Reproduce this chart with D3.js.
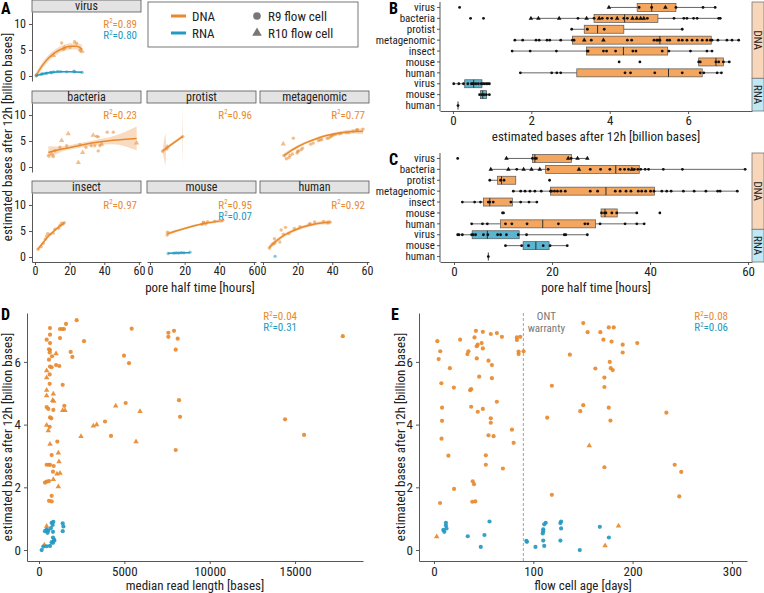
<!DOCTYPE html>
<html><head><meta charset="utf-8">
<script src="https://cdn.jsdelivr.net/npm/d3@7"></script>
<style>body{margin:0;background:#fff}svg{display:block}</style>
</head><body>
<svg id="c" width="764" height="593"></svg>
<script>
// ================= DATA =================
// Panel A: [pore half time (h), bases (billion), shape 0=R9 circle 1=R10 triangle]
const aVirusDNA=[[0.75,0.15,0],[10.7,3.97,1],[15.4,6.35,0],[16.5,5.1,0],[17.0,5.45,1],[20.2,5.5,0],[22.8,6.6,0],[24.0,6.3,0],[26.0,4.95,0],[27.2,4.75,1]];
const aVirusRNA=[[0.75,0.05,0],[1.0,0.18,0],[3.6,0.33,0],[4.4,0.42,0],[6.0,0.5,0],[6.9,0.55,0],[8.9,0.7,0],[9.5,0.62,0],[10.7,0.76,0],[13.1,0.9,0],[14.8,0.85,0],[18.3,0.8,0],[22.5,0.93,0],[22.8,0.82,0],[27.2,0.7,0]];
const aBacteria=[[7.7,2.16,0],[9.6,2.5,1],[10.6,2.02,0],[11.5,3.14,0],[14.4,3.8,0],[15.4,5.1,1],[18.3,4.1,0],[19.2,6.4,1],[25.0,0.85,1],[26.0,4.3,0],[27.5,2.8,1],[29.4,3.8,0],[32.5,4.1,0],[33.6,6.1,1],[34.5,4.1,0],[35.6,5.9,0],[36.5,5.8,0],[36.5,3.1,0],[37.5,4.1,0],[38.5,4.4,1],[41.7,6.7,0],[45.2,6.7,0],[58.7,4.6,1]];
const aProtist=[[7.3,3.03,0],[9.5,3.43,0],[9.9,3.86,1],[18.9,5.85,0]];
const aMeta=[[11.7,4.45,1],[12.1,2.2,0],[13.5,1.6,0],[15.0,1.8,0],[15.6,2.2,0],[17.0,2.5,0],[17.5,5.55,0],[19.7,2.7,0],[20.0,3.0,0],[20.5,3.1,0],[22.0,3.3,0],[22.8,3.6,0],[27.5,4.4,0],[29.0,4.6,0],[32.0,5.1,0],[33.0,5.2,0],[34.0,5.3,0],[37.0,5.5,0],[38.0,5.6,0],[39.0,5.8,0],[39.5,6.0,0],[40.0,6.1,0],[40.9,6.2,0],[42.0,6.3,0],[44.0,6.4,0],[45.0,6.5,0],[48.0,6.6,0],[49.5,6.6,0],[52.0,6.9,0],[54.0,7.1,0],[54.5,7.2,0],[57.8,7.29,0]];
const aInsect=[[1.7,1.51,0],[3.6,1.97,0],[4.8,2.64,0],[6.0,3.43,0],[6.7,4.0,0],[7.3,4.5,0],[8.7,4.4,0],[10.5,4.59,0],[11.5,5.34,0],[13.6,5.51,0],[14.4,6.06,0],[15.3,6.48,0],[16.3,6.4,0],[16.9,6.62,0]];
const aMouseDNA=[[9.9,4.24,0],[10.1,4.77,0],[30.0,6.27,0],[30.7,6.6,0],[31.0,6.71,0],[32.2,6.35,0],[33.2,6.8,0],[37.3,6.9,0],[42.0,7.05,0]];
const aMouseRNA=[[10.5,0.68,0],[13.8,0.74,0],[15.2,0.79,0],[16.7,0.76,0],[18.2,0.85,0],[19.6,0.8,0],[23.1,0.93,0]];
const aHumanDNA=[[3.6,1.72,0],[5.8,2.52,0],[6.6,3.5,0],[6.8,2.65,0],[9.7,2.9,0],[10.5,5.2,0],[11.8,4.39,0],[13.0,5.7,0],[14.9,4.53,0],[18.1,5.5,0],[21.3,5.85,0],[26.7,6.31,0],[27.3,6.4,0],[29.8,6.74,0],[34.9,6.85,0],[37.3,6.6,0],[38.8,6.7,0]];
const aHumanRNA=[[7.0,0.13,0]];
// smooth fits: [x, fit, lower, upper]
const aVirusDNAFit=[[0.75,0.15,-0.5,0.8],[4,1.9,1.3,2.5],[8,3.5,2.9,4.1],[12,4.6,4.0,5.2],[16,5.3,4.7,5.9],[20,5.7,5.1,6.3],[24,5.7,5.1,6.3],[27.2,5.1,4.2,6.0]];
const aVirusRNAFit=[[0.75,0.12,-0.05,0.3],[5,0.45,0.33,0.57],[10,0.7,0.58,0.82],[15,0.8,0.68,0.92],[20,0.82,0.7,0.94],[27.2,0.7,0.45,0.95]];
const aBacteriaFit=[[7.7,2.8,1.6,4.0],[15,3.4,2.9,3.95],[25,4.1,3.65,4.55],[35,4.7,4.2,5.2],[45,5.15,4.4,5.9],[58.7,5.5,3.2,7.8]];
const aProtistFit=[[7.3,3.1,2.9,3.3],[8.9,3.5,0.2,6.7],[9.3,3.6,3.3,3.95],[18.5,5.8,5.55,6.1],[18.9,5.9,0.2,11.3]];
const aMetaFit=[[12.1,2.2,1.7,2.7],[16,3.1,2.8,3.45],[20,3.9,3.6,4.2],[25,4.7,4.45,4.95],[30,5.35,5.1,5.6],[35,5.9,5.65,6.15],[40,6.3,6.05,6.55],[45,6.6,6.3,6.9],[50,6.8,6.45,7.15],[57.8,6.9,6.3,7.5]];
const aInsectFit=[[1.7,1.5,1.1,1.9],[4,2.5,2.25,2.75],[7,3.7,3.5,3.9],[10,4.7,4.5,4.9],[13,5.6,5.4,5.8],[16.9,6.5,6.2,6.8]];
const aMouseDNAFit=[[9.9,4.45,4.05,4.85],[15,5.0,4.75,5.25],[20,5.5,5.27,5.73],[25,5.95,5.72,6.18],[30,6.35,6.15,6.55],[35,6.65,6.42,6.88],[42,7.0,6.6,7.4]];
const aMouseRNAFit=[[10.5,0.72,0.6,0.84],[15,0.76,0.68,0.84],[20,0.8,0.72,0.88],[23.1,0.83,0.7,0.96]];
const aHumanFit=[[3.6,1.8,1.2,2.4],[7,2.9,2.5,3.3],[10,3.7,3.35,4.05],[15,4.7,4.4,5.0],[20,5.4,5.1,5.7],[25,5.95,5.65,6.25],[30,6.35,6.05,6.65],[35,6.6,6.25,6.95],[38.8,6.7,6.2,7.2]];
const aFacetNames=["virus","bacteria","protist","metagenomic","insect","mouse","human"];
const aR2DNA=["0.89","0.23","0.96","0.77","0.97","0.95","0.92"];
const aR2RNA=["0.80",null,null,null,null,"0.07",null];
const aXTicks=[0,20,40,60], aYTicks=[0,5,10];

// Panels B & C categories
const dnaCats=["virus","bacteria","protist","metagenomic","insect","mouse","human"];
const rnaCats=["virus","mouse","human"];
// box stats [lower whisker, q1, median, q3, upper whisker]; points [value, shape]
const bBoxDNA=[[3.98,4.70,5.07,5.69,6.69],[1.99,3.6,4.38,5.23,6.82],[3.03,3.35,3.69,4.36,5.85],[1.58,3.05,5.28,6.59,7.29],[1.51,3.41,4.35,5.48,6.61],[6.27,6.27,6.71,6.9,7.05],[1.72,3.16,5.5,6.36,6.85]];
const bBoxRNA=[[0.02,0.3,0.53,0.74,0.93],[0.68,0.7,0.76,0.86,0.93],[0.13,0.13,0.13,0.13,0.13]];
const bPtsDNA=[
 [[0.17,0],[3.98,1],[4.75,0],[5.07,0],[5.42,1],[5.69,0],[6.38,0],[6.69,0]],
 [[0.45,0],[0.78,0],[1.99,1],[2.18,1],[2.71,1],[3.19,0],[3.41,1],[3.6,0],[3.73,1],[3.81,0],[3.94,0],[4.05,0],[4.19,1],[4.36,0],[4.45,0],[4.58,1],[4.69,1],[4.79,1],[4.87,1],[4.96,0],[5.64,0],[5.89,0],[5.97,0],[6.14,0],[6.23,0],[6.78,0],[6.82,0]],
 [[3.03,0],[3.43,0],[3.86,0],[5.85,0]],
 [[1.58,0],[1.78,0],[2.12,0],[2.2,0],[2.4,0],[2.47,0],[2.75,0],[3.05,0],[3.09,0],[3.35,1],[3.53,0],[3.84,1],[4.45,0],[4.56,0],[5.13,0],[5.2,0],[5.23,0],[5.28,0],[5.47,0],[5.53,0],[5.76,0],[5.85,0],[5.97,0],[6.1,0],[6.23,0],[6.36,0],[6.48,0],[6.57,0],[6.61,0],[6.76,0],[6.99,0],[7.12,0],[7.29,0]],
 [[1.51,0],[1.97,0],[2.64,0],[3.43,0],[3.45,0],[3.84,0],[3.92,0],[4.15,0],[4.59,0],[4.67,0],[5.34,0],[5.51,0],[6.06,0],[6.48,0],[6.61,0]],
 [[4.24,0],[4.77,0],[6.27,0],[6.31,0],[6.71,0],[6.78,0],[6.9,0],[7.05,0]],
 [[1.72,0],[2.52,0],[2.65,0],[2.75,0],[4.39,0],[4.53,0],[5.15,0],[5.85,0],[6.31,0],[6.4,0],[6.74,0],[6.85,0]]
];
const bPtsRNA=[
 [[0.02,0],[0.15,0],[0.27,0],[0.38,0],[0.47,0],[0.51,0],[0.53,0],[0.59,0],[0.65,0],[0.72,0],[0.76,0],[0.8,0],[0.85,0],[0.89,0],[0.93,0]],
 [[0.68,0],[0.74,0],[0.79,0],[0.85,0],[0.93,0]],
 [[0.13,0]]
];
const bTicks=[0,2,4,6];
const cBoxDNA=[[10.7,16.0,16.5,24.0,27.2],[7.5,18.7,33.0,37.8,59.4],[7.3,8.9,9.7,12.6,12.6],[12.1,19.7,31.0,40.9,57.8],[1.7,6.0,7.3,11.9,16.9],[30.0,30.0,30.8,33.3,37.3],[3.6,9.5,18.1,28.9,38.8]];
const cBoxRNA=[[0.75,3.7,6.8,13.3,27.2],[10.5,14.1,16.7,19.4,23.1],[7,7,7,7,7]];
const cPtsDNA=[
 [[0.75,0],[10.7,1],[16.0,0],[16.5,0],[16.8,0],[23.3,1],[23.9,0],[25.2,1],[27.2,1]],
 [[7.5,1],[11.1,1],[12.8,0],[14.2,1],[15.8,1],[17.5,1],[19.2,0],[25.5,1],[27.8,0],[29.9,0],[31.8,0],[33.9,0],[34.8,0],[35.6,0],[36.3,1],[36.8,0],[37.5,0],[38.1,0],[39.0,0],[39.7,0],[42.7,0],[46.6,0],[59.4,0]],
 [[7.3,0],[9.5,0],[10.2,0],[19.5,0]],
 [[12.1,0],[13.6,0],[14.5,0],[15.5,0],[16.5,0],[17.8,0],[19.7,0],[19.9,0],[20.5,0],[21.1,0],[21.8,0],[22.7,0],[27.8,0],[29.3,0],[32.9,0],[33.9,0],[35.1,0],[36.1,0],[37.6,0],[38.3,0],[39.1,0],[40.1,0],[40.8,0],[42.4,0],[43.4,0],[44.3,0],[46.8,0],[49.0,0],[51.4,0],[53.8,0],[54.3,0],[57.8,0]],
 [[1.7,0],[4.2,0],[5.4,0],[7.0,0],[7.3,0],[8.0,0],[11.6,0],[13.6,0],[15.3,0],[16.9,0]],
 [[9.9,0],[10.1,0],[30.1,0],[30.7,0],[31.0,0],[32.2,0],[33.2,0],[37.3,0],[42.0,0]],
 [[3.6,0],[5.8,0],[6.8,0],[10.5,0],[11.8,0],[14.9,0],[21.3,0],[26.7,0],[27.3,0],[29.8,0],[34.9,0],[37.3,0],[38.8,0]]
];
const cPtsRNA=[
 [[0.75,0],[1.0,0],[1.7,0],[3.6,0],[3.9,0],[4.4,0],[6.0,0],[6.9,0],[8.9,0],[9.5,0],[10.7,0],[13.1,0],[14.8,0],[22.5,0],[22.8,0],[27.2,0]],
 [[10.5,0],[13.8,0],[15.2,0],[18.2,0],[19.6,0],[23.1,0]],
 [[7.0,0]]
];
const cTicks=[0,20,40,60];

// Panel D: [median read length, bases, shape]
const dDNA=[[645,7.08,0],[645,6.87,0],[449,6.71,0],[645,6.6,0],[586,6.4,0],[645,6.38,0],[625,6.3,0],[586,6.07,0],[762,6.18,0],[1000,6.26,1],[645,5.85,0],[740,5.83,0],[1000,5.9,0],[1190,5.87,0],[449,5.72,1],[625,5.6,0],[449,5.5,1],[625,5.3,0],[449,5.1,1],[449,4.92,1],[840,4.98,1],[800,4.77,1],[860,4.75,1],[449,4.56,0],[545,4.5,0],[840,4.47,0],[1484,4.6,0],[1387,4.45,1],[1523,4.45,1],[645,4.23,0],[720,4.2,0],[449,3.98,1],[625,3.93,0],[545,3.81,1],[645,3.38,1],[1074,3.46,0],[742,3.03,0],[1133,3.1,1],[1387,5.27,0],[1230,6.76,0],[1230,7.05,0],[1370,7.05,0],[1460,7.05,0],[1582,7.21,0],[2207,7.33,0],[1856,6.32,0],[1953,6.16,0],[2637,6.66,0],[2461,3.62,1],[3184,3.96,1],[3379,4.0,1],[3868,4.1,0],[4219,3.64,0],[4493,4.6,1],[5078,4.69,0],[4981,6.2,0],[5274,5.96,0],[5430,7.06,0],[5919,4.42,1],[5684,3.46,1],[7578,6.93,0],[7578,6.8,0],[7911,6.99,0],[8126,6.74,0],[8009,6.39,0],[8204,4.78,0],[8263,4.25,0],[8009,3.19,0],[14416,4.17,0],[15529,3.67,0],[17797,6.82,0],
 [449,2.72,0],[586,2.72,0],[645,2.72,0],[860,2.68,0],[1172,2.82,1],[820,2.5,0],[1055,2.43,1],[1230,2.45,1],[840,2.25,1],[350,2.15,0],[450,2.18,0],[586,2.2,0],[1133,2.02,1],[742,1.73,0],[586,1.57,0],[742,1.55,0],[449,0.76,1],[312,0.16,1]];
const dRNA=[[156,0.0,0],[254,0.11,0],[449,0.12,0],[645,0.13,0],[449,0.66,0],[545,0.62,0],[742,0.87,0],[840,0.9,0],[800,0.8,0],[350,0.6,0],[500,0.55,0],[820,0.58,0],[820,0.4,0],[742,0.25,0],[820,0.23,0],[880,0.33,0],[900,0.3,0],[1390,0.85,0],[1430,0.75,0],[1390,0.6,0],[700,0.7,0]];
const dXTicks=[0,5000,10000,15000], dYTicks=[0,2,4,6];
// Panel E: [flow cell age (days), bases, shape]
const eDNA=[[3.4,6.66,0],[6.3,6.34,0],[4.7,6.09,0],[16,5.8,0],[7.4,5.32,0],[20,5.18,0],[8.1,4.54,0],[8.1,4.12,0],[7.6,3.55,0],[14.5,3.01,0],[26.3,6.71,0],[33.7,6.25,0],[34.7,6.34,0],[36.4,5.1,0],[37.4,5.13,0],[37.4,4.57,0],[42.2,6.99,0],[40.8,6.78,0],[43.1,6.5,0],[44,6.55,0],[48,6.6,0],[43.1,6.11,0],[45.5,5.53,0],[44.1,4.41,0],[49.2,4.5,0],[49.2,6.96,0],[49.2,6.43,0],[54.9,6.04,0],[58.3,5.9,0],[58.3,5.48,0],[57.2,6.89,0],[63.3,6.92,0],[68.4,6.8,0],[63.3,4.73,0],[57.2,4.2,0],[57.2,4.06,0],[54.9,3.66,0],[60,3.63,0],[78.5,3.84,0],[80.2,3.42,0],[52.2,3.02,0],[83.5,6.7,0],[83.5,6.78,0],[86.9,6.8,0],[85.2,6.33,0],[85.2,6.25,0],[90.2,6.34,0],[114,4.22,0],[118.7,5.24,0],[136.8,6.23,0],[147.3,4.43,0],[150.3,4.62,0],[150.3,7.24,0],[154.7,6.95,0],[156.4,3.33,1],[162.5,5.79,0],[167.5,6.95,0],[170.6,6.71,0],[171.6,5.5,0],[171.6,5.2,0],[176,7.1,0],[181,7.1,0],[176,4.54,0],[177,6.0,0],[177.7,4.13,0],[178,5.8,0],[180,5.74,0],[178.8,6.65,0],[190,6.55,0],[190,6.3,0],[204.7,6.6,0],[234,4.38,0],
 [52.2,2.72,0],[69.4,2.6,0],[39,2.19,0],[40.3,2.1,0],[41.6,1.55,0],[38.6,1.54,0],[20.2,1.95,0],[6.1,1.5,0],[118.7,1.76,0],[171.6,2.64,0],[242.4,2.72,0],[249,2.49,0],[247,1.71,0],[2.7,0.43,1],[172.3,0.14,1],[185.8,0.77,1]];
const eRNA=[[9.4,0.64,0],[10.4,0.58,0],[12,0.87,0],[12,0.78,0],[12.6,0.69,0],[34,0.44,0],[47.1,0.1,0],[50.8,0.48,0],[55.9,0.91,0],[93,0.29,0],[93.6,0.26,0],[102.2,0.1,0],[109.5,0.53,0],[110,0.6,0],[110,0.66,0],[111,0.82,0],[112.5,0.87,0],[110,0.3,0],[111,0.13,0],[127.3,0.3,0],[127.3,0.86,0],[128,0.91,0],[128,0.69,0],[146.8,0.0,0],[167,0.74,0],[176.1,0.4,0]];
const eXTicks=[0,100,200,300], eYTicks=[0,2,4,6];
const warrantyDay=90;
const dR2=["0.04","0.31"], eR2=["0.08","0.06"];

// ================= STYLE =================
const FONT="'Liberation Sans Narrow','Roboto Condensed','DejaVu Sans Condensed','Arial Narrow',Roboto,sans-serif";
const ORANGE="#E8892E", BLUE="#2499C1";
const BOX_OR="#F4A55E", BOX_BL="#5BB5D0";
const STRIP_DNA="#F7D6BA", STRIP_RNA="#BFE8F4";
const AXC="#444", TXT="#222";
const svg=d3.select("#c").attr("font-family",FONT);
const tri=d3.symbol().type(d3.symbolTriangle);

function styleAxis(g,fs){
  g.attr("font-family",FONT).attr("font-size",fs);
  g.select("path.domain").attr("stroke",AXC).attr("stroke-width",0.9);
  g.selectAll(".tick line").attr("stroke",AXC).attr("stroke-width",0.9);
  g.selectAll(".tick text").attr("fill",TXT);
}
function r2text(g,x,y,val,color,fs){
  const t=g.append("text").attr("x",x).attr("y",y).attr("text-anchor","end").attr("fill",color).style("font-size",fs+"px");
  t.append("tspan").text("R");
  t.append("tspan").attr("dy",-fs*0.4).style("font-size",(fs*0.62)+"px").text("2");
  t.append("tspan").attr("dy",fs*0.4).text("="+val);
}
function drawPts(g,data,xs,ys,color,op,r,triSize){
  g.selectAll(null).data(data.filter(d=>d[2]===0)).join("circle")
    .attr("cx",d=>xs(d[0])).attr("cy",d=>ys(d[1])).attr("r",r).attr("fill",color).attr("fill-opacity",op);
  g.selectAll(null).data(data.filter(d=>d[2]===1)).join("path")
    .attr("d",tri.size(triSize)()).attr("transform",d=>`translate(${xs(d[0])},${ys(d[1])})`).attr("fill",color).attr("fill-opacity",op);
}
function label(x,y,t){svg.append("text").attr("x",x).attr("y",y).attr("font-weight","bold").style("font-size","16px").attr("fill","#000").text(t);}

// ================= PANEL A =================
const aDNA=[aVirusDNA,aBacteria,aProtist,aMeta,aInsect,aMouseDNA,aHumanDNA];
const aRNA=[aVirusRNA,null,null,null,null,aMouseRNA,aHumanRNA];
const aDNAFit=[aVirusDNAFit,aBacteriaFit,aProtistFit,aMetaFit,aInsectFit,aMouseDNAFit,aHumanFit];
const aRNAFit=[aVirusRNAFit,null,null,null,null,aMouseRNAFit,null];
const aPos=[[0,0],[0,1],[1,1],[2,1],[0,2],[1,2],[2,2]];
const aColX=[32,147,260], aColW=109, aRowY=[12,103,193], aRowH=69, aStripH=12;
const ax=d3.scaleLinear().domain([-1.73,61.2]).range([0,aColW]);
const ay=d3.scaleLinear().domain([-0.96,12.31]).range([aRowH,0]);
aFacetNames.forEach((name,i)=>{
  const [col,row]=aPos[i];
  const g=svg.append("g").attr("transform",`translate(${aColX[col]},${aRowY[row]})`);
  g.append("rect").attr("x",0).attr("y",-aStripH).attr("width",aColW).attr("height",aStripH)
    .attr("fill","#E3E3E3").attr("stroke","#555").attr("stroke-width",0.8);
  g.append("text").attr("x",aColW/2).attr("y",-aStripH/2).attr("dy","0.36em").attr("text-anchor","middle")
    .style("font-size","12px").attr("fill",TXT).text(name);
  const cid="clipA"+i;
  g.append("clipPath").attr("id",cid).append("rect").attr("width",aColW).attr("height",aRowH);
  const pg=g.append("g").attr("clip-path",`url(#${cid})`);
  const curve=name==="protist"?d3.curveLinear:d3.curveMonotoneX;
  const area=d3.area().x(d=>ax(d[0])).y0(d=>ay(d[2])).y1(d=>ay(d[3])).curve(curve);
  const line=d3.line().x(d=>ax(d[0])).y(d=>ay(d[1])).curve(d3.curveMonotoneX);
  [[aDNAFit[i],ORANGE],[aRNAFit[i],BLUE]].forEach(([f,c])=>{ if(f) pg.append("path").attr("d",area(f)).attr("fill",c).attr("fill-opacity",0.3);});
  drawPts(pg,aDNA[i],ax,ay,ORANGE,0.55,1.7,12);
  if(aRNA[i]) drawPts(pg,aRNA[i],ax,ay,BLUE,0.55,1.7,12);
  [[aDNAFit[i],ORANGE],[aRNAFit[i],BLUE]].forEach(([f,c])=>{ if(f) pg.append("path").attr("d",line(f)).attr("fill","none").attr("stroke",c).attr("stroke-width",1.5);});
  r2text(g,aColW-4,15.5,aR2DNA[i],ORANGE,11);
  if(aR2RNA[i]) r2text(g,aColW-4,27,aR2RNA[i],BLUE,11);
  if(col===0){ const a=g.append("g").call(d3.axisLeft(ay).tickValues(aYTicks).tickSize(3).tickSizeOuter(0)); styleAxis(a,12); }
  if(row===2){ const a=g.append("g").attr("transform",`translate(0,${aRowH})`).call(d3.axisBottom(ax).tickValues(aXTicks).tickSize(3).tickPadding(1).tickSizeOuter(0)); styleAxis(a,12); }
});
svg.append("text").attr("transform","translate(12,137) rotate(-90)").attr("text-anchor","middle").style("font-size","13px").attr("fill",TXT).text("estimated bases after 12h [billion bases]");
svg.append("text").attr("x",200).attr("y",292).attr("text-anchor","middle").style("font-size","13px").attr("fill",TXT).text("pore half time [hours]");
label(1,14,"A");
// legend
const lg=svg.append("g");
lg.append("rect").attr("x",148).attr("y",2).attr("width",210).attr("height",45).attr("fill","#fff").attr("stroke","#555").attr("stroke-width",0.8);
[["DNA",ORANGE,16],["RNA",BLUE,33]].forEach(([t,c,y])=>{
  lg.append("line").attr("x1",171).attr("x2",186).attr("y1",y).attr("y2",y).attr("stroke",c).attr("stroke-width",3);
  lg.append("text").attr("x",192).attr("y",y).attr("dy","0.36em").style("font-size","13px").attr("fill",TXT).text(t);
});
lg.append("circle").attr("cx",257).attr("cy",16).attr("r",3.8).attr("fill","#777");
lg.append("path").attr("d",tri.size(40)()).attr("transform","translate(257,33)").attr("fill","#777");
lg.append("text").attr("x",268).attr("y",16).attr("dy","0.36em").style("font-size","13px").attr("fill",TXT).text("R9 flow cell");
lg.append("text").attr("x",268).attr("y",33).attr("dy","0.36em").style("font-size","13px").attr("fill",TXT).text("R10 flow cell");

// ================= PANELS B & C =================
function boxPanel(o){
  const rows=dnaCats.map((c,i)=>({cat:c,t:"DNA",box:o.boxD[i],pts:o.ptsD[i]}))
    .concat(rnaCats.map((c,i)=>({cat:c,t:"RNA",box:o.boxR[i],pts:o.ptsR[i]})));
  const y=d3.scaleBand().domain(d3.range(rows.length)).range([o.top,o.bot]);
  const x=d3.scaleLinear().domain(o.xdom).range([440,752]);
  const g=svg.append("g");
  rows.forEach((r,i)=>{
    const cy=y(i)+y.bandwidth()/2, b=r.box, h=8;
    g.append("line").attr("x1",x(b[0])).attr("x2",x(b[4])).attr("y1",cy).attr("y2",cy).attr("stroke","#222").attr("stroke-width",0.7);
    g.append("rect").attr("x",x(b[1])).attr("y",cy-h/2).attr("width",Math.max(0,x(b[3])-x(b[1]))).attr("height",h)
      .attr("fill",r.t==="DNA"?BOX_OR:BOX_BL).attr("stroke","#555").attr("stroke-width",0.7);
    g.append("line").attr("x1",x(b[2])).attr("x2",x(b[2])).attr("y1",cy-h/2).attr("y2",cy+h/2).attr("stroke","#222").attr("stroke-width",0.9);
    const pts=r.pts.map(p=>[p[0],0,p[1]]);
    drawPts(g,pts,x,()=>cy,"#111",1,1.4,9);
    g.append("line").attr("x1",437).attr("x2",440).attr("y1",cy).attr("y2",cy).attr("stroke",AXC).attr("stroke-width",0.9);
    g.append("text").attr("x",435).attr("y",cy).attr("dy","0.34em").attr("text-anchor","end").style("font-size","11px").attr("fill",TXT).text(r.cat);
  });
  g.append("line").attr("x1",440).attr("x2",440).attr("y1",o.top).attr("y2",o.bot).attr("stroke",AXC).attr("stroke-width",0.9);
  const xa=g.append("g").attr("transform",`translate(0,${o.bot})`).call(d3.axisBottom(x).tickValues(o.ticks).tickSize(3).tickPadding(2).tickSizeOuter(0));
  styleAxis(xa,13);
  const split=y(dnaCats.length);
  [[o.top,split,STRIP_DNA,"DNA"],[split,o.bot,STRIP_RNA,"RNA"]].forEach(([a,b,c,t])=>{
    g.append("rect").attr("x",752).attr("y",a).attr("width",12).attr("height",b-a).attr("fill",c).attr("stroke","#777").attr("stroke-width",0.8);
    g.append("text").attr("transform",`translate(758,${(a+b)/2}) rotate(90)`).attr("text-anchor","middle").attr("dy","0.36em").style("font-size","11px").attr("fill",TXT).text(t);
  });
  g.append("text").attr("x",596).attr("y",o.bot+30).attr("text-anchor","middle").style("font-size","13px").attr("fill",TXT).text(o.title);
}
boxPanel({top:2,bot:111,xdom:[-0.33,7.63],boxD:bBoxDNA,boxR:bBoxRNA,ptsD:bPtsDNA,ptsR:bPtsRNA,ticks:bTicks,title:"estimated bases after 12h [billion bases]"});
boxPanel({top:153,bot:262,xdom:[-2.86,60.8],boxD:cBoxDNA,boxR:cBoxRNA,ptsD:cPtsDNA,ptsR:cPtsRNA,ticks:cTicks,title:"pore half time [hours]"});
label(389,14,"B"); label(389,165,"C");

// ================= PANELS D & E =================
function scatterPanel(o){
  const x=d3.scaleLinear().domain(o.xdom).range([o.x0,o.x1]);
  const y=d3.scaleLinear().domain([-0.35,7.56]).range([561,313]);
  const g=svg.append("g");
  if(o.vline!=null) g.append("line").attr("x1",x(o.vline)).attr("x2",x(o.vline)).attr("y1",313).attr("y2",561).attr("stroke","#999").attr("stroke-width",0.9).attr("stroke-dasharray","3,2");
  drawPts(g,o.dna,x,y,ORANGE,0.92,2.1,13);
  drawPts(g,o.rna,x,y,BLUE,0.92,2.1,13);
  const ya=g.append("g").attr("transform",`translate(${o.x0},0)`).call(d3.axisLeft(y).tickValues(o.yt).tickSize(3).tickSizeOuter(0)); styleAxis(ya,13);
  const xa=g.append("g").attr("transform","translate(0,561)").call(d3.axisBottom(x).tickValues(o.xt).tickFormat(d3.format("d")).tickSize(3).tickSizeOuter(0)); styleAxis(xa,13);
  g.append("text").attr("transform",`translate(${o.ylabX},437) rotate(-90)`).attr("text-anchor","middle").style("font-size","13px").attr("fill",TXT).text("estimated bases after 12h [billion bases]");
  g.append("text").attr("x",(o.x0+o.x1)/2).attr("y",590).attr("text-anchor","middle").style("font-size","13px").attr("fill",TXT).text(o.title);
  r2text(g,o.r2x,320,o.r2[0],ORANGE,11);
  r2text(g,o.r2x,331,o.r2[1],BLUE,11);
  return {g,x};
}
scatterPanel({x0:27,x1:363,ylabX:12,xdom:[-703,18981],dna:dDNA,rna:dRNA,xt:dXTicks,yt:dYTicks,title:"median read length [bases]",r2:dR2,r2x:297});
const E=scatterPanel({x0:419,x1:747,ylabX:405,xdom:[-15.1,315.2],dna:eDNA,rna:eRNA,xt:eXTicks,yt:eYTicks,title:"flow cell age [days]",r2:eR2,r2x:728,vline:warrantyDay});
E.g.append("text").attr("x",E.x(warrantyDay)+23).attr("y",320).attr("text-anchor","middle").style("font-size","11px").attr("fill","#777").text("ONT");
E.g.append("text").attr("x",E.x(warrantyDay)+23).attr("y",332).attr("text-anchor","middle").style("font-size","11px").attr("fill","#777").text("warranty");
label(1,320,"D"); label(391,320,"E");
</script>
</body></html>
